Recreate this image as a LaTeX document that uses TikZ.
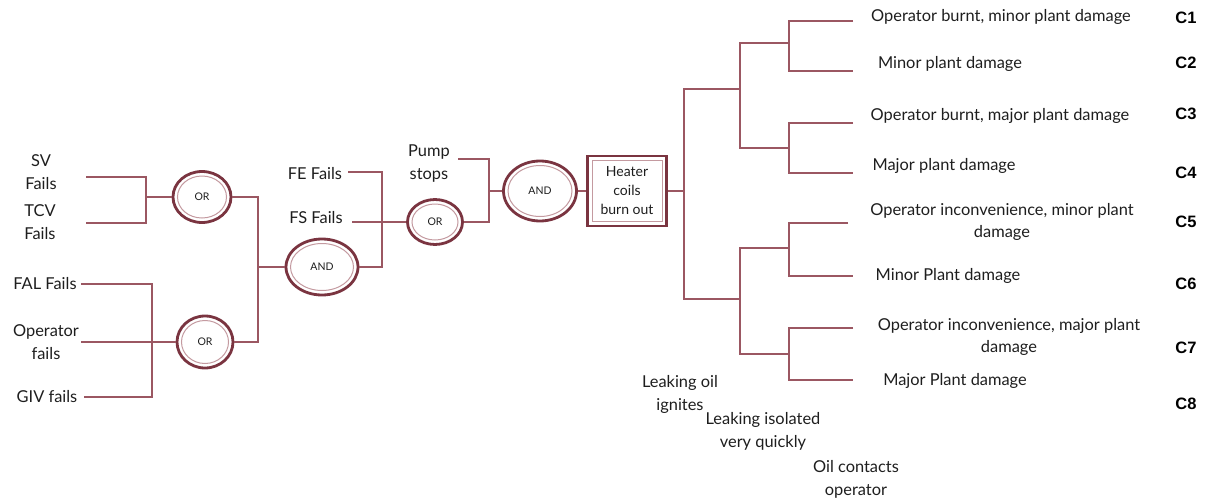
\documentclass[tikz,border=0pt]{standalone}
\usepackage{fontspec}
\setmainfont{Lato}
\newfontfamily\cfont{Liberation Sans}
\usetikzlibrary{shapes.geometric}
\definecolor{gatec}{HTML}{7A3440}
\definecolor{gatein}{HTML}{C49AA0}
\definecolor{wirec}{HTML}{9B5762}
\definecolor{txt}{HTML}{1E1E1E}
\tikzset{
  wire/.style={draw=wirec, line width=1.2pt},
  gate/.style={ellipse, draw=gatec, line width=2.8pt, fill=white, inner sep=0pt,
    font=\fontsize{10.5}{12}\selectfont, text=txt},
  gatei/.style={ellipse, draw=gatein, line width=1pt, inner sep=0pt},
  lbl/.style={align=center, text=txt, inner sep=0pt, font=\fontsize{16.4}{23}\selectfont},
  outc/.style={align=center, text=txt, inner sep=0pt, font=\fontsize{16.4}{22}\selectfont},
  clab/.style={inner sep=0pt, font=\cfont\bfseries\fontsize{16.5}{18}\selectfont, text=black},
  boxo/.style={draw=gatec, line width=2.8pt, fill=white, inner sep=0pt},
  boxi/.style={draw=gatein, line width=1pt, inner sep=0pt, align=center, text=txt,
    font=\fontsize{14}{19}\selectfont},
}
\begin{document}
\begin{tikzpicture}[x=1pt,y=-1pt]
\useasboundingbox (0,0) rectangle (1211,501);
% ---------- left inputs
\node[lbl] (sv) at (41,172) {SV\\Fails};
\node[lbl] (tcv) at (40,222) {TCV\\Fails};
\node[lbl] (fal) at (45,284) {FAL Fails};
\node[lbl] (op) at (46,342) {Operator\\fails};
\node[lbl] (giv) at (47,397) {GIV fails};
\coordinate (svend) at (86,177);
\coordinate (tcvend) at (86,223);
\coordinate (falend) at (81,284);
\coordinate (opend) at (81,342);
\coordinate (givend) at (84,397);
\coordinate (j1) at (146,197);
\coordinate (j2) at (152,342);
\coordinate (j3) at (258,267);
% ---------- gates
\node[gate, minimum width=58pt, minimum height=51pt] (or1) at (202,197) {OR};
\node[gatei, minimum width=49pt, minimum height=42pt] (or1i) at (or1) {};
\node[gate, minimum width=56pt, minimum height=52pt] (or2) at (205,342) {OR};
\node[gatei, minimum width=47pt, minimum height=43pt] (or2i) at (or2) {};
\node[gate, minimum width=72pt, minimum height=56pt] (and1) at (322,267) {AND};
\node[gatei, minimum width=63pt, minimum height=47pt] (and1i) at (and1) {};
\node[gate, minimum width=55pt, minimum height=45pt] (or3) at (435,222) {OR};
\node[gatei, minimum width=46pt, minimum height=36pt] (or3i) at (or3) {};
\node[gate, minimum width=73pt, minimum height=60pt] (and2) at (540,191) {AND};
\node[gatei, minimum width=64pt, minimum height=51pt] (and2i) at (and2) {};
\node[boxo, minimum width=79pt, minimum height=70pt] (heat) at (627,191) {};
\node[boxi, minimum width=70pt, minimum height=61pt] (heati) at (heat) {Heater\\coils\\burn out};
% ---------- middle inputs
\node[lbl] (fe) at (315,174) {FE Fails};
\node[lbl] (fs) at (316,218) {FS Fails};
\node[lbl] (pump) at (429,164) {Pump\\stops};
\coordinate (feend) at (348,172);
\coordinate (fsend) at (352,222);
\coordinate (j4) at (382,222);
\coordinate (pumpend) at (458,159);
\coordinate (j5) at (489,191);
\coordinate (j6) at (684,191);
% ---------- wires left part
\draw[wire] (svend) -| (j1);
\draw[wire] (tcvend) -| (j1);
\draw[wire] (j1) -- (or1);
\draw[wire] (falend) -| (j2);
\draw[wire] (givend) -| (j2);
\draw[wire] (opend) -- (or2);
\draw[wire] (or1) -| (j3);
\draw[wire] (or2) -| (j3);
\draw[wire] (j3) -- (and1);
\draw[wire] (feend) -| (j4);
\draw[wire] (and1) -| (j4);
\draw[wire] (fsend) -- (or3);
\draw[wire] (pumpend) -| (j5);
\draw[wire] (or3) -| (j5);
\draw[wire] (j5) -- (and2);
\draw[wire] (and2) -- (heat);
\draw[wire] (heat) -- (j6);
% ---------- event tree
\coordinate (b1) at (740,89);
\coordinate (b2) at (740,299);
\coordinate (c1) at (789,43);
\coordinate (c2) at (789,148);
\coordinate (c3) at (789,248);
\coordinate (c4) at (789,354);
\coordinate (e1) at (853,21);
\coordinate (e2) at (853,71);
\coordinate (e3) at (853,123);
\coordinate (e4) at (853,173);
\coordinate (e5) at (848,223);
\coordinate (e6) at (853,276);
\coordinate (e7) at (853,328);
\coordinate (e8) at (853,380);
\draw[wire] (b1) -| (j6) |- (b2);
\draw[wire] (c1) -| (b1) |- (c2);
\draw[wire] (c3) -| (b2) |- (c4);
\draw[wire] (e1) -| (c1) |- (e2);
\draw[wire] (e3) -| (c2) |- (e4);
\draw[wire] (e5) -| (c3) |- (e6);
\draw[wire] (e7) -| (c4) |- (e8);
% ---------- outcomes
\node[outc] (o1) at (1001,17) {Operator burnt, minor plant damage};
\node[outc] (o2) at (950,64) {Minor plant damage};
\node[outc] (o3) at (1000,116) {Operator burnt, major plant damage};
\node[outc] (o4) at (944,166) {Major plant damage};
\node[outc] (o5) at (1002,222) {Operator inconvenience, minor plant\\damage};
\node[outc] (o6) at (948,276) {Minor Plant damage};
\node[outc] (o7) at (1009,337) {Operator inconvenience, major plant\\damage};
\node[outc] (o8) at (955,381) {Major Plant damage};
\node[clab] (k1) at (1186,18) {C1};
\node[clab] (k2) at (1186,63) {C2};
\node[clab] (k3) at (1186,114) {C3};
\node[clab] (k4) at (1186,173) {C4};
\node[clab] (k5) at (1186,222) {C5};
\node[clab] (k6) at (1186,284) {C6};
\node[clab] (k7) at (1186,348) {C7};
\node[clab] (k8) at (1186,404) {C8};
% ---------- tree headings
\node[lbl] (h1) at (680,394) {Leaking oil\\ignites};
\node[lbl] (h2) at (763,431) {Leaking isolated\\very quickly};
\node[lbl] (h3) at (856,479) {Oil contacts\\operator};
\end{tikzpicture}
\end{document}
